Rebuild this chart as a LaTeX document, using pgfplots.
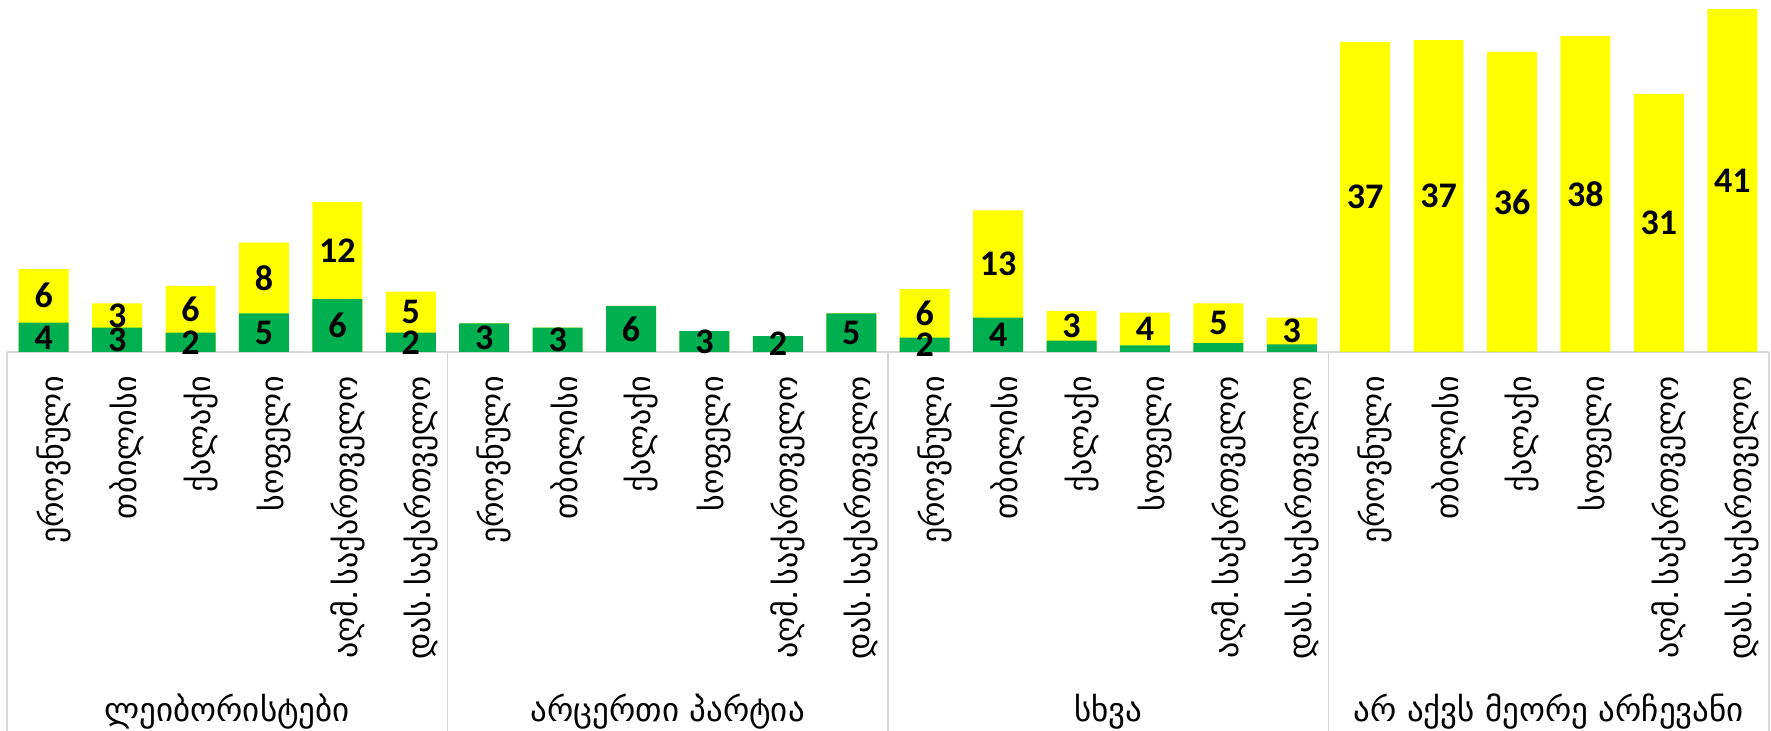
\documentclass[border=0pt]{standalone}
\usepackage{fontspec}
\setmainfont{Carlito}
\newfontfamily\geo{DejaVu Sans}
\usepackage{pgfplots}
\usepackage{pgfplotstable}
\pgfplotsset{compat=1.18}

\definecolor{barGreen}{HTML}{00B050}
\definecolor{barYellow}{HTML}{FFFF00}
\definecolor{sepGray}{HTML}{D9D9D9}

% x, green segment, total height, green label, yellow label
\pgfplotstableread{
x  g    t     gl  tl
0  3.5  9.9   4   6
1  2.9  5.8   3   3
2  2.3  7.9   2   6
3  4.6  13.05 5   8
4  6.3  17.9  6   12
5  2.3  7.2   2   5
6  3.4  3.4   3   {}
7  2.9  2.9   3   {}
8  5.5  5.5   6   {}
9  2.5  2.5   3   {}
10 1.9  1.9   2   {}
11 4.6  4.6   5   {}
12 1.7  7.5   2   6
13 4.1  16.9  4   13
14 1.35 4.9   {}  3
15 0.8  4.7   {}  4
16 1.07 5.8   {}  5
17 0.9  4.1   {}  3
18 0    37.0  {}  37
19 0    37.2  {}  37
20 0    35.8  {}  36
21 0    37.7  {}  38
22 0    30.8  {}  31
23 0    40.9  {}  41
}\data

\begin{document}
\begin{tikzpicture}
\path[use as bounding box] (0,0) rectangle (885.5pt,365.5pt);
\begin{axis}[
  at={(3.5pt,189.5pt)}, anchor=south west,
  scale only axis,
  width=881pt, height=176pt,
  xmin=-0.5, xmax=23.5,
  ymin=0, ymax=42,
  clip=false,
  hide y axis,
  axis x line*=bottom,
  x axis line style={sepGray, line width=0.8pt},
  xtick={0,...,23},
  major tick length=0pt,
  xticklabels={ეროვნული,თბილისი,ქალაქი,სოფელი,აღმ.\,საქართველო,დას.\,საქართველო,
                ეროვნული,თბილისი,ქალაქი,სოფელი,აღმ.\,საქართველო,დას.\,საქართველო,
                ეროვნული,თბილისი,ქალაქი,სოფელი,აღმ.\,საქართველო,დას.\,საქართველო,
                ეროვნული,თბილისი,ქალაქი,სოფელი,აღმ.\,საქართველო,დას.\,საქართველო},
  xticklabel shift=12pt,
  xticklabel style={rotate=90, anchor=east, inner sep=0pt, yshift=-5pt,
                    font=\geo\fontsize{16}{18}\selectfont},
  extra x ticks={-0.5,5.5,11.5,17.5,23.5},
  extra x tick labels={},
  extra tick style={major tick length=189.5pt, tick align=outside,
                    tick style={draw=sepGray, line width=0.8pt}},
]
  \addplot[ybar, bar width=25pt, bar shift=0pt, fill=barYellow, draw=none]
    table[x=x, y=t] {\data};
  \addplot[ybar, bar width=25pt, bar shift=0pt, fill=barGreen, draw=none]
    table[x=x, y=g] {\data};

  \addplot[only marks, mark=none, nodes near coords,
    point meta=explicit symbolic,
    nodes near coords style={anchor=center, font=\bfseries\fontsize{18}{20}\selectfont, text=black}]
    table[x=x, y expr=\thisrow{g}/2, meta=gl] {\data};
  \addplot[only marks, mark=none, nodes near coords,
    point meta=explicit symbolic,
    nodes near coords style={anchor=center, font=\bfseries\fontsize{18}{20}\selectfont, text=black}]
    table[x=x, y expr=(\thisrow{g}+\thisrow{t})/2, meta=tl] {\data};

  \begin{scope}[every node/.style={font=\geo\fontsize{16.5}{18}\selectfont}]
    \node at (axis cs:2.5,0)  [yshift=-180pt] {ლეიბორისტები};
    \node at (axis cs:8.5,0)  [yshift=-180pt] {არცერთი პარტია};
    \node at (axis cs:14.5,0) [yshift=-180pt] {სხვა};
    \node at (axis cs:20.5,0) [yshift=-180pt] {არ აქვს მეორე არჩევანი};
  \end{scope}
\end{axis}
\end{tikzpicture}
\end{document}
